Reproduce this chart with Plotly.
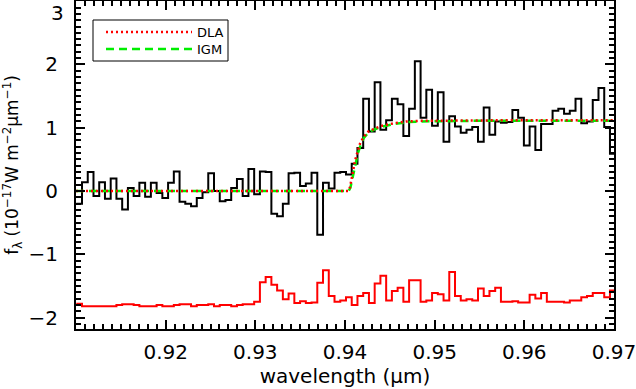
import numpy as np
import plotly.graph_objects as go

# ---- data ----
BIN_START = 0.91003      # left edge of first spectral bin (um)
BIN_WIDTH = 0.00064      # bin width (um)

flux = [-0.20, 0.14, 0.30, -0.08, 0.14, -0.12, 0.20, -0.12, -0.29, 0.05,
        -0.08, 0.13, -0.09, 0.13, -0.03, -0.11, 0.13, 0.31, -0.17, -0.20,
        -0.24, -0.11, -0.02, 0.28, 0.00, -0.16, -0.14, 0.05, 0.19, -0.08,
        0.35, -0.05, 0.31, 0.30, -0.36, -0.40, -0.20, 0.28, 0.29, 0.08,
        0.12, 0.29, -0.69, 0.13, 0.04, 0.29, 0.30, 0.26, 0.43, 0.68,
        1.46, 0.94, 1.72, 0.97, 1.12, 1.46, 1.37, 0.87, 1.30, 2.05,
        1.16, 1.60, 1.03, 1.56, 0.78, 1.18, 1.02, 0.92, 0.97, 1.01,
        0.78, 1.32, 0.89, 1.10, 1.08, 1.09, 1.28, 1.16, 0.72, 1.02,
        0.65, 1.06, 1.06, 1.27, 1.30, 1.22, 1.27, 1.46, 1.07, 1.10,
        1.44, 1.63, 1.01, 0.59]

noise = [-1.78, -1.82, -1.82, -1.82, -1.82, -1.82, -1.82, -1.80, -1.79, -1.79,
         -1.80, -1.82, -1.82, -1.82, -1.80, -1.82, -1.82, -1.80, -1.79, -1.79,
         -1.82, -1.80, -1.80, -1.79, -1.82, -1.80, -1.80, -1.82, -1.80, -1.79,
         -1.79, -1.75, -1.44, -1.36, -1.48, -1.57, -1.71, -1.62, -1.77, -1.74,
         -1.77, -1.76, -1.45, -1.25, -1.66, -1.75, -1.73, -1.68, -1.80, -1.66,
         -1.61, -1.77, -1.46, -1.34, -1.73, -1.58, -1.53, -1.75, -1.41, -1.41,
         -1.75, -1.73, -1.61, -1.63, -1.73, -1.28, -1.66, -1.73, -1.71, -1.73,
         -1.54, -1.66, -1.58, -1.53, -1.75, -1.75, -1.74, -1.76, -1.76, -1.64,
         -1.70, -1.61, -1.75, -1.75, -1.75, -1.76, -1.73, -1.73, -1.68, -1.66,
         -1.61, -1.61, -1.68, -1.57]

dla_wave = [0.9100, 0.94037, 0.94056, 0.94075, 0.94093, 0.94112, 0.94138, 0.94168,
            0.94205, 0.94260, 0.94335, 0.94410, 0.94539, 0.94689, 0.94837, 0.9550,
            0.9600, 0.9700]
dla_flux = [0.0, 0.0, 0.06, 0.20, 0.35, 0.48, 0.61, 0.75,
            0.85, 0.94, 0.99, 1.03, 1.07, 1.10, 1.11, 1.12,
            1.12, 1.12]

igm_wave = [0.9100, 0.94040, 0.94060, 0.94080, 0.94100, 0.94120, 0.94145, 0.94175,
            0.94210, 0.94265, 0.94340, 0.94420, 0.94550, 0.94700, 0.94850, 0.9550,
            0.9600, 0.9700]
igm_flux = [0.0, 0.0, 0.05, 0.18, 0.33, 0.46, 0.60, 0.73,
            0.84, 0.93, 0.98, 1.02, 1.06, 1.09, 1.10, 1.11,
            1.11, 1.11]

x_ticks = [0.92, 0.93, 0.94, 0.95, 0.96, 0.97]
y_ticks = [-2, -1, 0, 1, 2, 3]

# ---- build figure ----
edges = BIN_START + BIN_WIDTH * np.arange(len(flux) + 1)
flux_steps = flux + [flux[-1]]
noise_steps = noise + [noise[-1]]

fig = go.Figure()
fig.add_trace(go.Scatter(x=edges, y=flux_steps, mode="lines", line_shape="hv",
                         line=dict(color="black", width=2), showlegend=False))
fig.add_trace(go.Scatter(x=edges, y=noise_steps, mode="lines", line_shape="hv",
                         line=dict(color="#ff0000", width=2), showlegend=False))
fig.add_trace(go.Scatter(x=igm_wave, y=igm_flux, mode="lines", name="IGM",
                         line=dict(color="#00ee00", width=2.5, dash="8px,5px"),
                         legend="legend2"))
fig.add_trace(go.Scatter(x=dla_wave, y=dla_flux, mode="lines", name="DLA",
                         line=dict(color="#ff0000", width=2.5, dash="2px,3px"),
                         legend="legend"))

W, H = 636, 389
ML, MR, MT, MB = 76, 22, 1, 60
PW, PH = W - ML - MR, H - MT - MB


def px_x(p):
    return (p - ML) / PW


def px_y(p):
    return (H - MB - p) / PH


def ylab(v):
    return str(v).replace("-", "−")


font = "DejaVu Sans, Liberation Sans, sans-serif"
leg_common = dict(xanchor="left", yanchor="middle", bgcolor="rgba(0,0,0,0)",
                  borderwidth=0, font=dict(size=13), itemwidth=86)
fig.update_layout(
    width=W, height=H,
    margin=dict(l=ML, r=MR, t=MT, b=MB, autoexpand=False),
    paper_bgcolor="white", plot_bgcolor="white",
    font=dict(family=font, color="black", size=20),
    legend=dict(x=px_x(101), y=px_y(32), **leg_common),
    legend2=dict(x=px_x(101), y=px_y(49), **leg_common),
    shapes=[dict(type="rect", xref="paper", yref="paper",
                 x0=px_x(93), x1=px_x(228), y0=px_y(61), y1=px_y(20),
                 line=dict(color="black", width=1), fillcolor="white", layer="below")],
    # top tick label (kept inside the page, as in the reference)
    annotations=[dict(text=ylab(y_ticks[-1]), xref="paper", yref="y", x=0, y=y_ticks[-1],
                      xanchor="right", yanchor="top", xshift=-11, yshift=1, borderpad=0,
                      showarrow=False, font=dict(size=20))],
)
axis_common = dict(showline=True, linecolor="black", linewidth=2, mirror="allticks",
                   ticks="inside", tickcolor="black", tickwidth=2, ticklen=9,
                   showgrid=False, zeroline=False, automargin=False,
                   ticklabeloverflow="allow")
fig.update_xaxes(range=[0.91, 0.97], tickvals=x_ticks,
                 ticktext=[f"{v:.2f}" for v in x_ticks],
                 minor=dict(dtick=0.001, tick0=0.91, ticks="inside", ticklen=5,
                            tickwidth=2, tickcolor="black", showgrid=False),
                 title=dict(text="wavelength (µm)", font=dict(size=20), standoff=1),
                 ticklabelstandoff=4, **axis_common)
fig.update_yaxes(range=[-2.18, 3.003], tickvals=y_ticks,
                 ticktext=[ylab(v) for v in y_ticks[:-1]] + [""],
                 minor=dict(dtick=0.1, tick0=0, ticks="inside", ticklen=5,
                            tickwidth=2, tickcolor="black", showgrid=False),
                 title=dict(text="f<sub>λ</sub> (10<sup>−17</sup>W m<sup>−2</sup>µm<sup>−1</sup>)",
                            font=dict(size=17), standoff=11),
                 ticklabelstandoff=12, **axis_common)

fig.write_html("out.html", config={"displayModeBar": False},
               post_script="document.body.style.margin='0';document.body.style.padding='0';")
